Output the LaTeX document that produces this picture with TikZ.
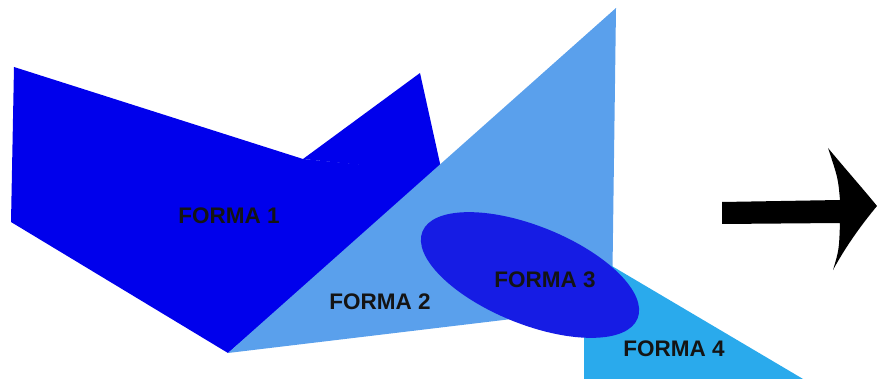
\documentclass[tikz,border=0pt]{standalone}
\usepackage{fontspec}
\setmainfont{Liberation Sans}

\definecolor{azulForma1}{RGB}{0,0,236}
\definecolor{azulForma2}{RGB}{90,160,236}
\definecolor{azulForma3}{RGB}{22,28,228}
\definecolor{azulForma4}{RGB}{42,170,236}

\tikzset{
  rotulo/.style={font=\bfseries\fontsize{22.5}{27}\selectfont, text=black!92, inner sep=0pt}
}

\begin{document}
\begin{tikzpicture}[x=1pt,y=-1pt]

  \useasboundingbox (0,0) rectangle (877,379);
  \clip (0,0) rectangle (877,379);

  % ---------------- forma 1 ----------------
  % big quadrilateral plus the small triangle on top
  \fill[azulForma1] (14,67) -- (303,159) -- (440,172) -- (228,353) -- (11,222) -- cycle;
  \fill[azulForma1] (303,159) -- (420,73) -- (441,168) -- (430,172) -- cycle;

  % ---------------- forma 2 ----------------
  \fill[azulForma2] (228,353) -- (616,8) -- (612,307) -- cycle;

  % ---------------- forma 4 ----------------
  \fill[azulForma4] (600,259) -- (820,389) -- (584,389) -- (584,300) -- cycle;

  % ---------------- forma 3 ----------------
  \fill[azulForma3, rotate around={-22:(530,275)}] (530,275) ellipse [x radius=116, y radius=49];

  % the labels
  \node[rotulo] (f1) at (229,216) {FORMA 1};
  \node[rotulo] (f2) at (380,302) {FORMA 2};
  \node[rotulo] (f3) at (545,280) {FORMA 3};
  \node[rotulo] (f4) at (674,349) {FORMA 4};

  % ---------------- the arrow ----------------
  \fill[black] (722,202) -- (840,200) .. controls (838,178) .. (828,148)
    .. controls (848,172) and (864,190) .. (877,206)
    .. controls (862,224) and (846,246) .. (833,270)
    .. controls (839,250) .. (840,223) -- (722,224) -- cycle;

\end{tikzpicture}
\end{document}
